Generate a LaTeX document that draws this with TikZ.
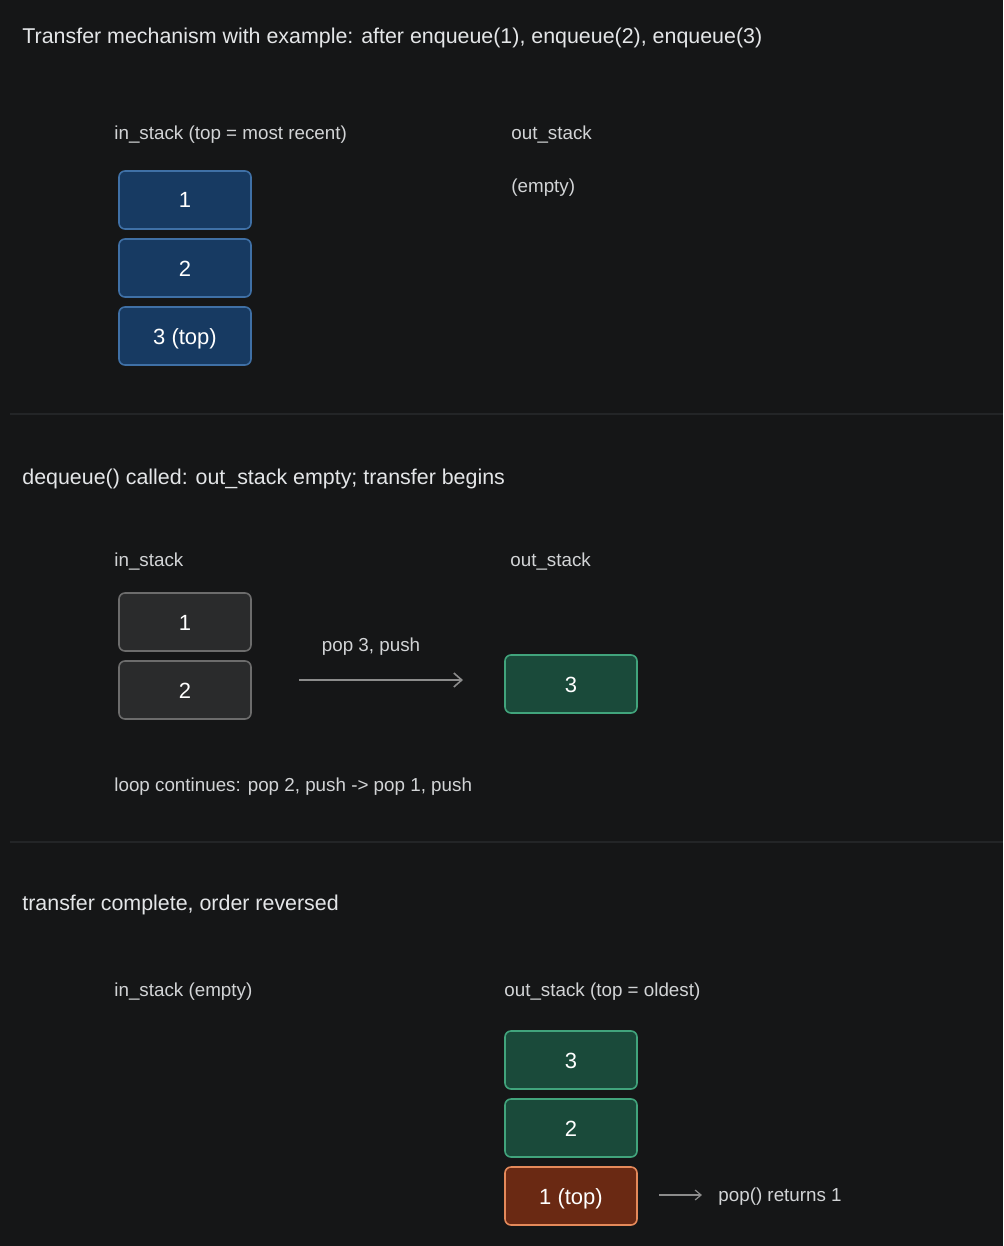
\documentclass[tikz,border=0pt]{standalone}
\usepackage{fontspec}
\setmainfont{Liberation Sans}
\usetikzlibrary{positioning, arrows.meta}
\definecolor{bg}{HTML}{151617}
\definecolor{rule}{HTML}{232527}
\definecolor{title}{HTML}{E4E6E8}
\definecolor{label}{HTML}{D2D4D6}
\definecolor{lgray}{HTML}{8C8C8C}
\definecolor{bluefill}{HTML}{173A62}
\definecolor{blueedge}{HTML}{3F70A6}
\definecolor{grayfill}{HTML}{2A2B2C}
\definecolor{grayedge}{HTML}{6C6C6C}
\definecolor{greenfill}{HTML}{1A4A3A}
\definecolor{greenedge}{HTML}{41A47C}
\definecolor{orangefill}{HTML}{6A2913}
\definecolor{orangeedge}{HTML}{E4895A}
\tikzstyle{Title} = [anchor=west, inner sep=0pt, text=title, font=\fontsize{10.7}{13}\selectfont]
\tikzstyle{Label} = [anchor=west, inner sep=0pt, text=label, font=\fontsize{9.4}{11}\selectfont]
\tikzstyle{Box} = [rounded corners=3pt, line width=0.8pt, minimum width=66pt,
minimum height=29pt, text=white, text height=10pt, text depth=2pt,
font=\fontsize{11}{13}\selectfont]
\tikzstyle{BoxBlue} = [Box, draw=blueedge, fill=bluefill]
\tikzstyle{BoxGray} = [Box, draw=grayedge, fill=grayfill]
\tikzstyle{BoxGreen} = [Box, draw=greenedge, fill=greenfill]
\tikzstyle{BoxOrange} = [Box, draw=orangeedge, fill=orangefill]
\tikzstyle{ArrowGray} = [line width=0.8pt, lgray, -{Straight Barb[length=4pt, width=7pt]}]

\begin{document}
\begin{tikzpicture}[x=0.5pt, y=-0.5pt]
    \fill[bg] (0,0) rectangle (1003,1246);
    \draw[rule, line width=0.6pt] (10,414) -- (1003,414);
    \draw[rule, line width=0.6pt] (10,842) -- (1003,842);

    % enqueue
    \node[Title] (t1) at (22,38) {Transfer mechanism with example: after enqueue(1), enqueue(2), enqueue(3)};
    \node[Label] (in1) at (114,135) {in\_stack (top = most recent)};
    \node[Label] (out1) at (511,135) {out\_stack};
    \node[Label] (e1) at (511,188) {(empty)};
    \node[BoxBlue] (b1) at (185,200) {1};
    \node[BoxBlue, below=4.2pt of b1] (b2) {2};
    \node[BoxBlue, below=4.2pt of b2] (b3) {3 (top)};

    % first transfer
    \node[Title] (t2) at (22,479) {dequeue() called: out\_stack empty; transfer begins};
    \node[Label] (in2) at (114,562) {in\_stack};
    \node[Label] (out2) at (510,562) {out\_stack};
    \node[BoxGray] (g1) at (185,622) {1};
    \node[BoxGray, below=4.2pt of g1] (g2) {2};
    \node[BoxGreen] (n3) at (571,684) {3};
    \coordinate (p1) at (299,680);
    \coordinate (p2) at (463,680);
    \draw[ArrowGray] (p1) -- (p2);
    \node[text=label, inner sep=0pt, font=\fontsize{9.4}{11}\selectfont] (m1) at (371,647) {pop 3, push};
    \node[Label] (loop) at (114,787) {loop continues: pop 2, push -> pop 1, push};

    % reversed
    \node[Title] (t3) at (22,905) {transfer complete, order reversed};
    \node[Label] (in3) at (114,992) {in\_stack (empty)};
    \node[Label] (out3) at (504,992) {out\_stack (top = oldest)};
    \node[BoxGreen] (r3) at (571,1060) {3};
    \node[BoxGreen, below=4.2pt of r3] (r2) {2};
    \node[BoxOrange, below=4.2pt of r2] (r1) {1 (top)};
    \coordinate (q1) at (659,1195);
    \node[Label] (ret) at (718,1197) {pop() returns 1};
    \draw[ArrowGray, line width=0.6pt, -{Straight Barb[length=3pt, width=5pt]}] (q1) -- (702,1195);
\end{tikzpicture}
\end{document}
